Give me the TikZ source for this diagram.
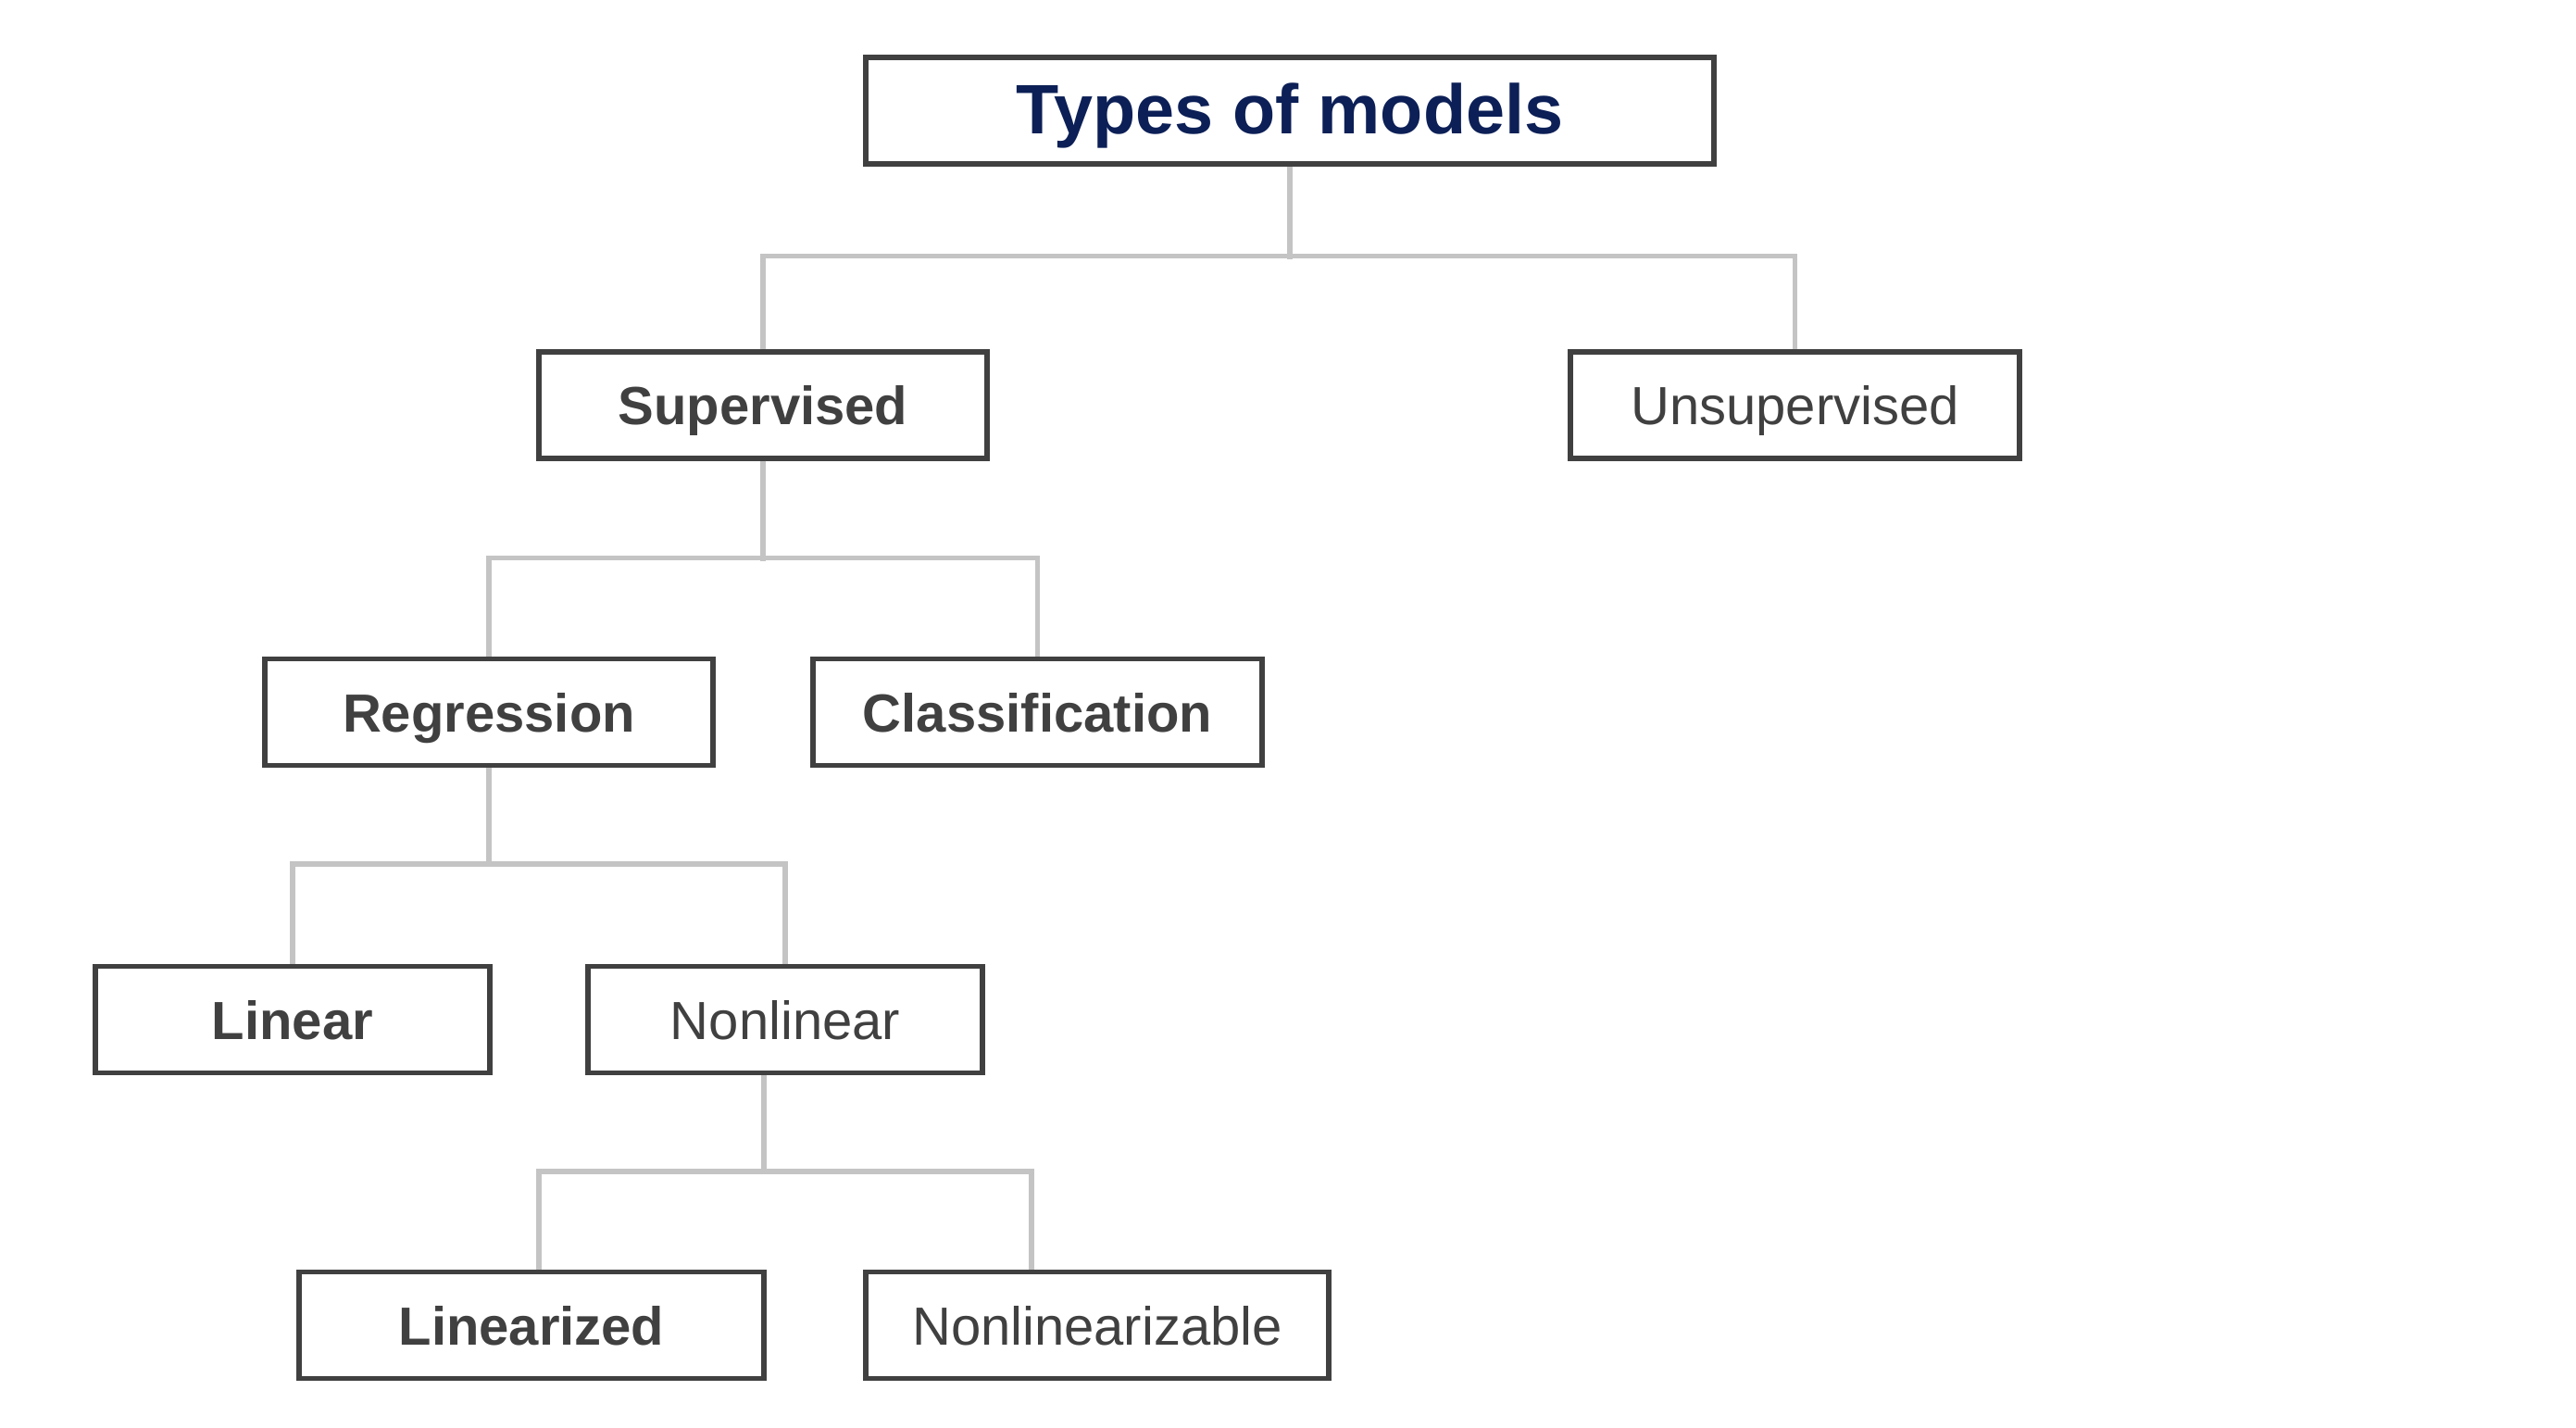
\documentclass[tikz,border=0pt]{standalone}
\usepackage{fontspec}
\setmainfont{Liberation Sans}
\definecolor{boxgray}{HTML}{404040}
\definecolor{linkgray}{HTML}{C4C4C4}
\definecolor{titleblue}{HTML}{0C1F56}
\begin{document}
\begin{tikzpicture}[
		box/.style={draw=boxgray, line width=1.5pt, text=boxgray, minimum height=1.15cm, inner sep=0pt, text height=0.52cm, text depth=0.1cm, font=\fontsize{16.5}{18}\selectfont},
		boldbox/.style={box, font=\fontsize{16.5}{18}\selectfont\bfseries},
		link/.style={draw=linkgray, line width=1.5pt},
	]
		\useasboundingbox (0,0) rectangle (27.82,-15.42);
		\node[box, minimum width=9.16cm, text=titleblue, text height=0.63cm, text depth=0.12cm, font=\fontsize{21.5}{24}\selectfont\bfseries] (types) at (13.93,-1.195) {Types of models};
		\node[boldbox, minimum width=4.84cm] (sup) at (8.24,-4.375) {Supervised};
		\node[box, minimum width=4.85cm] (unsup) at (19.385,-4.375) {Unsupervised};
		\node[boldbox, minimum width=4.84cm] (reg) at (5.28,-7.69) {Regression};
		\node[boldbox, minimum width=4.85cm] (cls) at (11.205,-7.69) {Classification};
		\node[boldbox, minimum width=4.26cm] (lin) at (3.16,-11.01) {Linear};
		\node[box, minimum width=4.26cm] (nonlin) at (8.48,-11.01) {Nonlinear};
		\node[boldbox, minimum width=5.02cm] (lzd) at (5.74,-14.31) {Linearized};
		\node[box, minimum width=5.0cm] (nlz) at (11.85,-14.31) {Nonlinearizable};
		\draw[link] (types.south) -- ++(0,-1.0);
		\draw[link] (sup.north) -- ++(0,1.01) -| (unsup.north);
		\draw[link] (sup.south) -- ++(0,-1.08);
		\draw[link] (reg.north) -- ++(0,1.065) -| (cls.north);
		\draw[link] (reg.south) -- ++(0,-1.06);
		\draw[link] (lin.north) -- ++(0,1.08) -| (nonlin.north);
		\draw[link] ([xshift=-2.3mm]nonlin.south) -- ++(0,-1.06);
		\draw[link] ([xshift=0.8mm]lzd.north) -- ++(0,1.06) -| ([xshift=-7.1mm]nlz.north);
	\end{tikzpicture}
\end{document}
